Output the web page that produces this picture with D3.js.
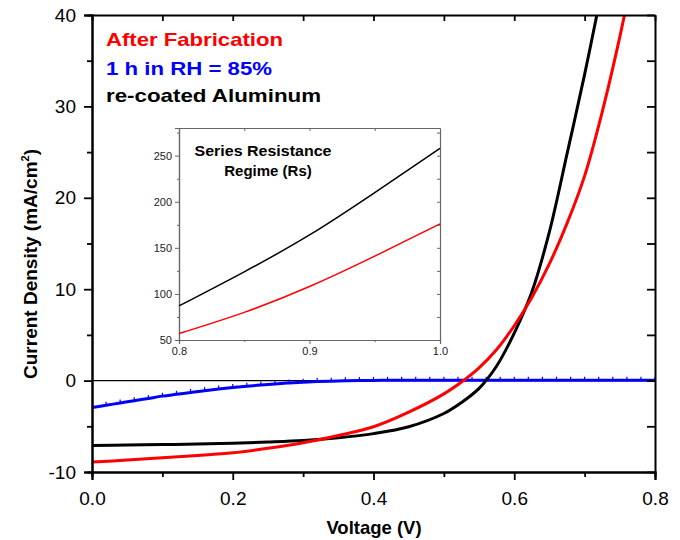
<!DOCTYPE html>
<html>
<head>
<meta charset="utf-8">
<script src="https://cdn.jsdelivr.net/npm/d3@7"></script>
<style>
  body { margin: 0; background: #fff; }
  svg { display: block; font-family: "Liberation Sans", Arial, sans-serif; }
</style>
</head>
<body>
<svg id="chart" width="680" height="540"></svg>
<script>
// main J-V curves
const redV   = [0, 0.05, 0.1, 0.15, 0.2, 0.25, 0.3, 0.35, 0.4, 0.45, 0.5, 0.525, 0.55, 0.575, 0.6, 0.625, 0.65, 0.675, 0.7, 0.725, 0.75, 0.76];
const redJ   = [-8.9, -8.7, -8.45, -8.2, -7.9, -7.4, -6.8, -6.0, -5.05, -3.45, -1.45, -0.15, 1.4, 3.4, 6.0, 9.1, 12.8, 17.2, 22.4, 29.4, 37.6, 41.3];
const blackV = [0, 0.05, 0.1, 0.15, 0.2, 0.25, 0.3, 0.35, 0.4, 0.45, 0.5, 0.525, 0.55, 0.575, 0.6, 0.625, 0.65, 0.675, 0.7, 0.72];
const blackJ = [-7.1, -7.05, -7.0, -6.95, -6.85, -6.72, -6.55, -6.25, -5.8, -5.05, -3.6, -2.4, -0.85, 1.6, 5.2, 9.7, 16.3, 24.8, 33.5, 41];
const blueV  = [0, 0.02, 0.04, 0.06, 0.08, 0.1, 0.12, 0.14, 0.16, 0.18, 0.2, 0.22, 0.24, 0.26, 0.28, 0.3, 0.32, 0.34, 0.36, 0.38,
                0.4, 0.42, 0.44, 0.46, 0.48, 0.5, 0.52, 0.54, 0.56, 0.58, 0.6, 0.62, 0.64, 0.66, 0.68, 0.7, 0.72, 0.74, 0.76, 0.78, 0.8];
const blueJ  = [-2.95, -2.7, -2.45, -2.2, -1.95, -1.7, -1.5, -1.3, -1.1, -0.92, -0.76, -0.62, -0.48, -0.36, -0.26, -0.18, -0.11, -0.06, -0.02, 0,
                0.02, 0.03, 0.03, 0.04, 0.04, 0.04, 0.04, 0.04, 0.04, 0.04, 0.04, 0.04, 0.04, 0.04, 0.04, 0.04, 0.04, 0.04, 0.04, 0.04, 0.04];

// inset (series resistance)
const insetV = [0.8, 0.85, 0.9, 0.95, 1.0];
const insetBlack = [87, 124, 164, 210, 258];
const insetRed = [57, 80, 108, 141, 176];

const xTicks = [0, 0.2, 0.4, 0.6, 0.8];
const yTicks = [-10, 0, 10, 20, 30, 40];
const insetXTicks = [0.8, 0.9, 1.0];
const insetYTicks = [50, 100, 150, 200, 250];

const legendItems = ["After Fabrication", "1 h in RH = 85%", "re-coated Aluminum"];
const legendColors = ["#ff0000", "#0000ff", "#000000"];
const legendWidths = [177, 166, 215];

const svg = d3.select("#chart");
const margin = { top: 15, right: 25, bottom: 68, left: 92 };
const W = 680 - margin.left - margin.right;
const H = 540 - margin.top - margin.bottom;

const g = svg.append("g").attr("transform", `translate(${margin.left},${margin.top})`);

const x = d3.scaleLinear().domain([0, 0.8]).range([0, W]);
const y = d3.scaleLinear().domain([-10, 40]).range([H, 0]);

g.append("clipPath").attr("id", "clip")
  .append("rect").attr("width", W).attr("height", H);

// zero line
g.append("line")
  .attr("x1", 0).attr("x2", W)
  .attr("y1", y(0)).attr("y2", y(0))
  .attr("stroke", "#000").attr("stroke-width", 1.3);

const line = d3.line().x(d => x(d[0])).y(d => y(d[1])).curve(d3.curveCatmullRom.alpha(0.5));
const zip = (a, b) => a.map((v, i) => [v, b[i]]);

const plot = g.append("g").attr("clip-path", "url(#clip)");
plot.append("path").datum(zip(blueV, blueJ))
  .attr("d", line).attr("fill", "none").attr("stroke", "#0000ff").attr("stroke-width", 3);
plot.selectAll(".bmark").data(zip(blueV, blueJ)).enter().append("line")
  .attr("x1", d => x(d[0])).attr("x2", d => x(d[0]))
  .attr("y1", d => y(d[1]) - 3.5).attr("y2", d => y(d[1]))
  .attr("stroke", "#0000ff").attr("stroke-width", 1.2);
plot.append("path").datum(zip(blackV, blackJ))
  .attr("d", line).attr("fill", "none").attr("stroke", "#000").attr("stroke-width", 3);
plot.append("path").datum(zip(redV, redJ))
  .attr("d", line).attr("fill", "none").attr("stroke", "#ff0000").attr("stroke-width", 3);

// axes
g.append("g").attr("transform", `translate(0,${H})`)
  .call(d3.axisBottom(x).tickValues(xTicks).tickFormat(d => d.toFixed(1)).tickSize(8).tickPadding(12));
g.append("g").attr("transform", `translate(0,${H})`)
  .call(d3.axisBottom(x).tickValues([0.1, 0.3, 0.5, 0.7]).tickFormat("").tickSize(5));
g.append("g")
  .call(d3.axisLeft(y).tickValues(yTicks).tickFormat(d => String(d)).tickSize(8).tickPadding(8));
g.append("g")
  .call(d3.axisLeft(y).tickValues([-5, 5, 15, 25, 35]).tickFormat("").tickSize(5));
g.append("g")
  .call(d3.axisTop(x).ticks(8).tickFormat("").tickSizeInner(-6).tickSizeOuter(0));
g.append("g").attr("transform", `translate(${W},0)`)
  .call(d3.axisRight(y).ticks(10).tickFormat("").tickSizeInner(-8).tickSizeOuter(0));

g.selectAll(".domain").attr("stroke", "#000").attr("stroke-width", 2);
g.selectAll(".tick line").attr("stroke", "#000").attr("stroke-width", 1.8);
g.selectAll(".tick text").attr("font-size", 19).attr("fill", "#000")
  .attr("font-family", "Liberation Sans, Arial, sans-serif");

// axis titles
svg.append("text")
  .attr("x", 374).attr("y", 534)
  .attr("text-anchor", "middle").attr("font-size", 18.5).attr("font-weight", "bold")
  .text("Voltage (V)");

const yt = svg.append("text")
  .attr("transform", "translate(37,264) rotate(-90)")
  .attr("text-anchor", "middle").attr("font-size", 19).attr("font-weight", "bold");
yt.append("tspan").text("Current Density (mA/cm");
yt.append("tspan").attr("font-size", 11).attr("dy", -8).text("2");
yt.append("tspan").attr("dy", 8).text(")");

// legend
svg.selectAll(".legend").data(legendItems).enter().append("text")
  .attr("x", 106).attr("y", (d, i) => [46, 75, 102][i])
  .attr("font-size", 18.5).attr("font-weight", "bold")
  .attr("textLength", (d, i) => legendWidths[i]).attr("lengthAdjust", "spacingAndGlyphs")
  .attr("fill", (d, i) => legendColors[i])
  .text(d => d);

// inset
const inL = 179, inT = 128, inW = 261, inH = 212;
const ig = svg.append("g").attr("transform", `translate(${inL},${inT})`);
ig.append("rect").attr("width", inW).attr("height", inH).attr("fill", "#fff");

const ix = d3.scaleLinear().domain([0.8, 1.0]).range([0, inW]);
const iy = d3.scaleLinear().domain([50, 280]).range([inH, 0]);

ig.append("g").attr("transform", `translate(0,${inH})`)
  .call(d3.axisBottom(ix).tickValues(insetXTicks).tickFormat(d3.format(".1f")).tickSize(4).tickPadding(3));
ig.append("g").attr("transform", `translate(0,${inH})`)
  .call(d3.axisBottom(ix).tickValues([0.85, 0.95]).tickFormat("").tickSize(2));
ig.append("g")
  .call(d3.axisLeft(iy).tickValues(insetYTicks).tickSize(4).tickPadding(3));
ig.append("g")
  .call(d3.axisLeft(iy).tickValues([75, 125, 175, 225, 275]).tickFormat("").tickSize(2));
ig.append("g")
  .call(d3.axisTop(ix).tickValues([0.85, 0.9, 0.95]).tickFormat("").tickSizeInner(-3).tickSizeOuter(0));
ig.append("g").attr("transform", `translate(${inW},0)`)
  .call(d3.axisRight(iy).tickValues([75, 100, 125, 150, 175, 200, 225, 250, 275]).tickFormat("").tickSizeInner(-3).tickSizeOuter(0));

ig.selectAll(".domain").attr("stroke", "#666").attr("stroke-width", 1.2);
ig.selectAll(".tick line").attr("stroke", "#666").attr("stroke-width", 1);
ig.selectAll(".tick text").attr("font-size", 11).attr("fill", "#222")
  .attr("font-family", "Liberation Sans, Arial, sans-serif");

const iline = d3.line().x(d => ix(d[0])).y(d => iy(d[1])).curve(d3.curveNatural);
ig.append("path").datum(zip(insetV, insetBlack))
  .attr("d", iline).attr("fill", "none").attr("stroke", "#000").attr("stroke-width", 1.5);
ig.append("path").datum(zip(insetV, insetRed))
  .attr("d", iline).attr("fill", "none").attr("stroke", "#ff0000").attr("stroke-width", 1.5);

ig.append("text").attr("x", 84).attr("y", 28)
  .attr("text-anchor", "middle").attr("font-size", 15).attr("font-weight", "bold")
  .attr("textLength", 137).attr("lengthAdjust", "spacingAndGlyphs")
  .text("Series Resistance");
ig.append("text").attr("x", 89).attr("y", 48)
  .attr("text-anchor", "middle").attr("font-size", 15).attr("font-weight", "bold")
  .text("Regime (Rs)");
</script>
</body>
</html>
